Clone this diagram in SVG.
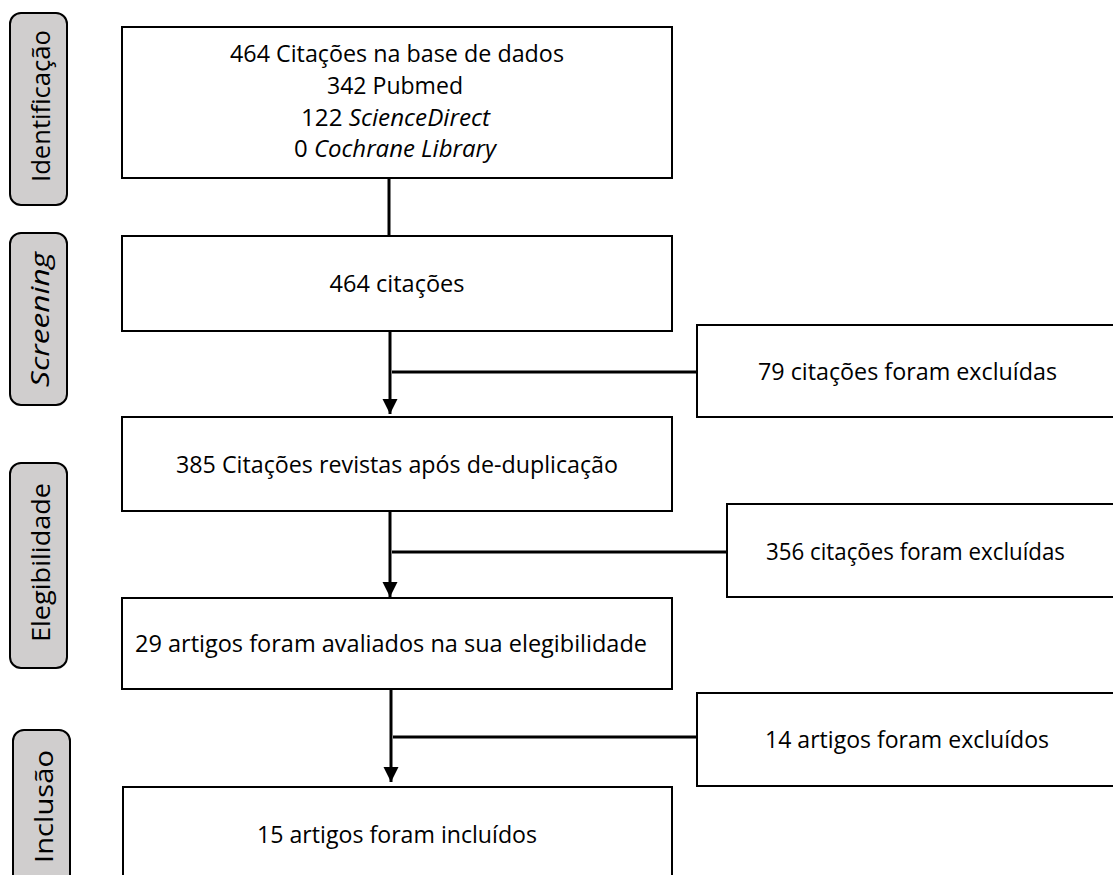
<svg xmlns="http://www.w3.org/2000/svg" width="1113" height="875" viewBox="0 0 1113 875">
<defs>
<style>
.box{fill:#fff;stroke:#000;stroke-width:2}
.stage{fill:#d0cece;stroke:#000;stroke-width:2}
.t{font-family:"Open Sans","Liberation Sans",sans-serif;font-size:24px;fill:#000;text-anchor:middle}
.s{font-family:"Open Sans","Liberation Sans",sans-serif;font-size:25px;fill:#000;text-anchor:middle}
.i{font-style:italic}
.c{stroke:#000;stroke-width:3;fill:none}
</style>
<marker id="arr" markerUnits="userSpaceOnUse" markerWidth="16" markerHeight="16" refX="15" refY="8" orient="auto">
<path d="M0,0.5 L15,8 L0,15.5 Z" fill="#000"/>
</marker>
</defs>
<rect width="1113" height="875" fill="#fff"/>

<g id="stage-identificacao">
<rect class="stage" x="10" y="13" width="57" height="192" rx="11"/>
<text class="s" transform="translate(50,106) rotate(-90)" textLength="152" lengthAdjust="spacingAndGlyphs">Identificação</text>
</g>
<g id="stage-screening">
<rect class="stage" x="10" y="233" width="57" height="172" rx="11"/>
<text class="s i" transform="translate(49,319.5) rotate(-90)" textLength="135" lengthAdjust="spacingAndGlyphs">Screening</text>
</g>
<g id="stage-elegibilidade">
<rect class="stage" x="10" y="463" width="57" height="205" rx="11"/>
<text class="s" transform="translate(50,562.5) rotate(-90)" textLength="159" lengthAdjust="spacingAndGlyphs">Elegibilidade</text>
</g>
<g id="stage-inclusao">
<rect class="stage" x="13" y="730" width="57" height="170" rx="11"/>
<text class="s" transform="translate(53,806.5) rotate(-90)" textLength="113" lengthAdjust="spacingAndGlyphs">Inclusão</text>
</g>

<g id="connectors">
<line class="c" x1="389" y1="178" x2="389" y2="236"/>
<line class="c" x1="390" y1="331" x2="390" y2="414" marker-end="url(#arr)"/>
<line class="c" x1="392" y1="372" x2="697" y2="372"/>
<line class="c" x1="390" y1="511" x2="390" y2="597" marker-end="url(#arr)"/>
<line class="c" x1="392" y1="552" x2="727" y2="552"/>
<line class="c" x1="391" y1="689" x2="391" y2="782" marker-end="url(#arr)"/>
<line class="c" x1="393" y1="737" x2="697" y2="737"/>
</g>

<g id="n-identificacao">
<rect class="box" x="122" y="27" width="550" height="151"/>
<text class="t" x="397" y="62" textLength="334" lengthAdjust="spacingAndGlyphs">464 Citações na base de dados</text>
<text class="t" x="395" y="94" textLength="136" lengthAdjust="spacingAndGlyphs">342 Pubmed</text>
<text class="t" x="395.5" y="126" textLength="189" lengthAdjust="spacingAndGlyphs">122 <tspan class="i">ScienceDirect</tspan></text>
<text class="t" x="395" y="157" textLength="202" lengthAdjust="spacingAndGlyphs">0 <tspan class="i">Cochrane Library</tspan></text>
</g>
<g id="n-screening">
<rect class="box" x="122" y="236" width="550" height="95"/>
<text class="t" x="397" y="292" textLength="135" lengthAdjust="spacingAndGlyphs">464 citações</text>
</g>
<g id="n-excl1">
<rect class="box" x="697" y="325" width="425" height="92"/>
<text class="t" x="907.5" y="380" textLength="299" lengthAdjust="spacingAndGlyphs">79 citações foram excluídas</text>
</g>
<g id="n-dedup">
<rect class="box" x="122" y="417" width="550" height="94"/>
<text class="t" x="397" y="473" textLength="442" lengthAdjust="spacingAndGlyphs">385 Citações revistas após de-duplicação</text>
</g>
<g id="n-excl2">
<rect class="box" x="727" y="504" width="425" height="93"/>
<text class="t" x="915.5" y="560" textLength="299" lengthAdjust="spacingAndGlyphs">356 citações foram excluídas</text>
</g>
<g id="n-eleg">
<rect class="box" x="122" y="598" width="550" height="91"/>
<text class="t" x="391" y="652" textLength="512" lengthAdjust="spacingAndGlyphs">29 artigos foram avaliados na sua elegibilidade</text>
</g>
<g id="n-excl3">
<rect class="box" x="697" y="693" width="425" height="93"/>
<text class="t" x="907" y="748" textLength="284" lengthAdjust="spacingAndGlyphs">14 artigos foram excluídos</text>
</g>
<g id="n-incl">
<rect class="box" x="123" y="787" width="549" height="120"/>
<text class="t" x="397" y="843" textLength="280" lengthAdjust="spacingAndGlyphs">15 artigos foram incluídos</text>
</g>
</svg>
